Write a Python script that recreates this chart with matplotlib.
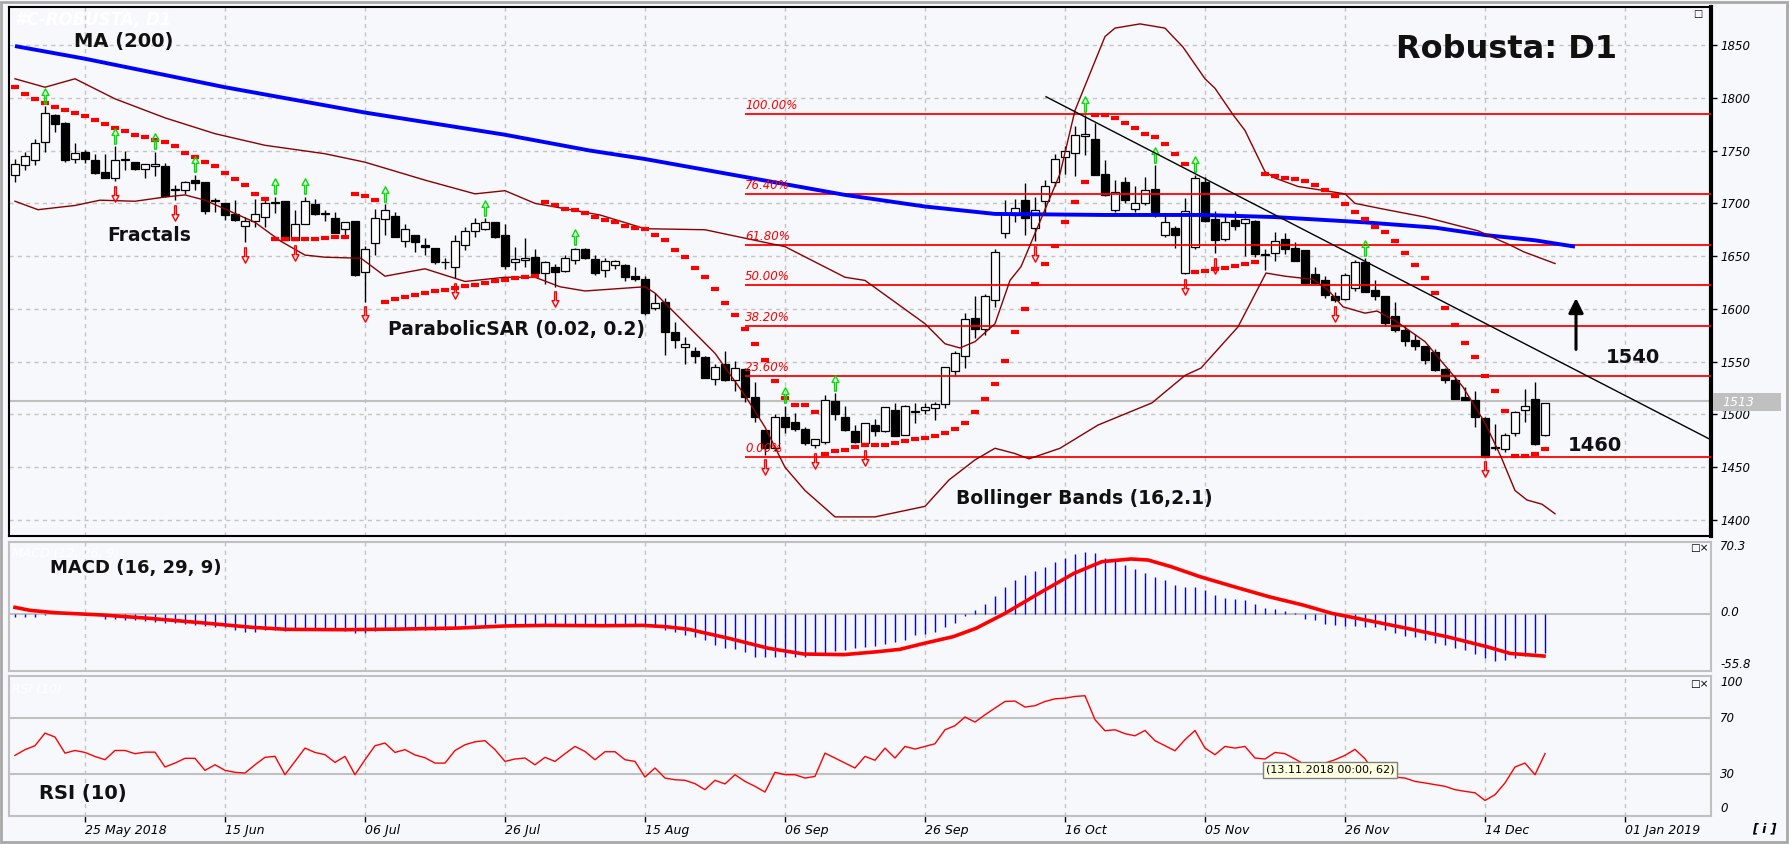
import numpy as np
import matplotlib
matplotlib.use('Agg')
import matplotlib.pyplot as plt
from matplotlib.path import Path
from matplotlib.patches import Rectangle

# ---------------- data ----------------
opens = [1727,1736,1741,1758,1784,1776,1742,1749,1741,1730,1724,1741,1739,1733,1735,1735,1713,1713,1722,1720,
         1702,1700,1690,1679,1683,1687,1700,1702,1665,1680,1699,1690,1686,1676,1683,1635,1662,1685,1688,1664,
         1670,1661,1658,1644,1640,1661,1674,1676,1682,1670,1644,1646,1649,1634,1640,1636,1646,1657,1647,1637,
         1642,1642,1631,1628,1601,1607,1578,1564,1560,1554,1534,1548,1533,1543,1517,1485,1468,1498,1493,1486,
         1471,1474,1513,1498,1484,1473,1490,1484,1504,1481,1502,1504,1506,1510,1541,1555,1591,1581,1608,1672,
         1689,1703,1677,1702,1720,1744,1748,1764,1761,1728,1694,1720,1695,1700,1714,1670,1677,1634,1659,1720,
         1685,1666,1684,1681,1683,1651,1653,1666,1658,1656,1633,1627,1612,1609,1620,1644,1618,1612,1593,1580,
         1571,1565,1559,1543,1533,1517,1514,1497,1468,1467,1482,1504,1515,1481]
highs = [1742,1749,1761,1792,1785,1777,1757,1751,1747,1747,1754,1750,1739,1737,1749,1738,1717,1721,1727,1720,
         1705,1700,1703,1687,1704,1706,1706,1702,1694,1706,1704,1694,1692,1682,1683,1660,1695,1699,1692,1680,
         1670,1667,1658,1648,1670,1678,1686,1686,1682,1680,1659,1667,1657,1645,1643,1651,1658,1658,1651,1648,
         1646,1643,1640,1631,1615,1610,1588,1573,1564,1555,1548,1560,1551,1544,1531,1485,1500,1508,1501,1488,
         1477,1518,1520,1508,1490,1492,1496,1507,1511,1509,1511,1511,1512,1545,1560,1596,1612,1614,1657,1703,
         1704,1719,1706,1722,1747,1754,1773,1784,1776,1741,1722,1725,1716,1725,1736,1691,1679,1705,1727,1725,
         1693,1688,1693,1686,1684,1657,1673,1672,1663,1656,1640,1631,1616,1634,1646,1648,1627,1612,1607,1585,
         1576,1565,1562,1544,1537,1526,1522,1498,1491,1482,1503,1524,1531,1511]
lows = [1720,1732,1736,1749,1768,1739,1738,1738,1728,1724,1721,1732,1732,1724,1726,1706,1703,1709,1713,1690,
        1692,1684,1683,1663,1678,1678,1691,1665,1665,1680,1689,1683,1672,1670,1631,1607,1651,1670,1668,1659,
        1654,1651,1643,1638,1629,1656,1668,1675,1667,1638,1637,1640,1633,1624,1621,1635,1643,1647,1632,1630,
        1638,1626,1626,1594,1599,1556,1563,1548,1549,1535,1528,1532,1522,1512,1493,1462,1465,1482,1484,1471,
        1468,1472,1495,1484,1473,1471,1480,1483,1480,1481,1492,1500,1495,1506,1536,1544,1572,1575,1602,1667,
        1682,1670,1664,1690,1716,1728,1726,1746,1727,1707,1692,1700,1692,1698,1687,1668,1658,1633,1657,1682,
        1653,1664,1675,1650,1649,1637,1645,1652,1645,1624,1624,1610,1607,1608,1617,1616,1608,1584,1578,1565,
        1561,1548,1541,1530,1515,1514,1488,1460,1466,1464,1480,1493,1471,1480]
closes = [1737,1745,1757,1786,1775,1741,1748,1742,1729,1724,1741,1741.5,1733,1737,1737,1707,1713.5,1720,1719,1693,
          1702.5,1689,1684,1683,1690,1700,1700.5,1665,1680,1702,1690,1690.5,1672,1682,1632,1657,1686,1694,1668,1676,
          1663,1659,1644,1644.5,1664,1674,1681,1682,1668,1641,1647,1648,1634,1644,1635,1648,1657,1648,1634,1645,
          1645,1630,1628,1596,1606,1578,1571,1567,1555,1535,1545,1533,1544,1517,1498,1468,1498,1488,1486,1473,
          1477,1514,1500,1485,1474,1492,1484,1507,1480,1508,1502.5,1507,1510,1545,1558,1590,1581,1612,1654,1690,
          1696,1686,1694,1716,1742,1750,1765,1766,1727,1708,1711,1703,1700,1713,1692,1682,1670,1693,1724,1683,
          1665,1682,1679,1685,1652,1651.5,1664,1657,1645,1625,1625,1613,1608,1632,1644,1616,1612,1587,1580,1570,
          1565,1552,1542,1533,1515,1514,1498,1460,1468.5,1481,1502,1508,1472,1511]

sar = [1810,1804,1799,1795,1791,1788,1786,1783,1779,1775,1771,1769,1765,1763,1760,1758,1754,1748,1744,1739,
       1735,1729,1723,1717,1709,1704,1666,1666,1666,1666,1666,1667,1668,1668,1709,1707,1703,1607,1609,1611,
       1613,1615,1617,1618,1620,1622,1623,1625,1626,1627,1629,1630,1631,1701,1698,1695,1694,1691,1687,1684,
       1682,1679,1677,1676,1670,1665,1656,1649,1639,1630,1619,1606,1594,1581,1567,1552,1532,1516,1509,1509,
       1502,1463,1465,1466,1469,1471,1471,1471,1473,1475,1477,1478,1480,1482,1486,1492,1502,1515,1529,1551,
       1578,1600,1624,1643,1660,1682,1701,1720,1784,1784,1781,1776,1771,1766,1763,1756,1747,1737,1635,1636,
       1638,1639,1641,1643,1644,1728,1726,1724,1723,1721,1717,1713,1707,1699,1692,1685,1678,1673,1664,1653,
       1642,1629,1615,1601,1585,1568,1554,1536,1522,1503,1461,1461,1463,1467]

fractal_up = [3, 10, 14, 18, 26, 29, 37, 47, 56, 77, 82, 107, 114, 118, 135]
fractal_dn = [10, 16, 23, 28, 35, 44, 54, 75, 80, 85, 102, 117, 120, 132, 147]

ma_x = [0, 7, 21, 35, 49, 57.5, 63, 73, 83, 91, 98, 109, 119, 126, 135, 142, 147, 152, 156]
ma_y = [1849, 1837, 1810, 1786, 1765, 1750, 1742, 1725, 1708, 1697, 1690, 1689, 1689, 1687, 1682, 1677, 1670, 1665, 1659]

bbu_x = [0, 3, 6, 10, 15, 20, 25, 31, 35, 41, 46, 49, 52, 58.5, 63, 69, 77, 83, 85, 91, 93, 94.5, 96, 98, 99.5,
         100.6, 104.5, 106, 109, 110, 112.5, 115, 116.8, 119, 120, 121.8, 123, 125, 126, 128.3, 133, 134, 136.6,
         141, 146.3, 149.4, 150.9, 154]
bbu_y = [1818, 1810, 1818, 1799, 1781, 1766, 1755, 1747, 1739, 1722, 1709, 1712, 1700, 1689, 1676, 1675, 1659, 1630,
         1627, 1586, 1567, 1563, 1569, 1586, 1627, 1640, 1728, 1788, 1858, 1866, 1870, 1866, 1848, 1818, 1809, 1784,
         1769, 1730, 1724, 1716, 1709, 1700, 1695, 1687, 1674, 1661, 1654, 1643]
bbl_x = [0, 2.3, 6, 8.5, 12, 15, 17, 19, 24, 26.6, 29, 31, 34.6, 37, 41, 45, 49, 52, 54.5, 57, 58.5, 63, 64, 66,
         70, 73, 75, 77, 79, 82, 86, 89, 91, 93.4, 96, 98, 100, 101.4, 104.5, 108.3, 113.7, 117, 118.6, 122.3,
         125.1, 127, 129.8, 131.3, 132.8, 135, 136.2, 138, 141, 144.8, 147, 148.6, 150, 151.2, 152.7, 154]
bbl_y = [1702, 1694, 1698, 1703, 1702, 1706, 1708, 1703, 1682, 1664, 1651, 1649, 1648, 1631, 1638, 1626, 1630, 1630,
         1621, 1617, 1618, 1621, 1615, 1596, 1558, 1518, 1488, 1450, 1428, 1403, 1403, 1409, 1413, 1438, 1457, 1468,
         1463, 1458, 1468, 1490, 1511, 1537, 1544, 1583, 1634, 1631, 1628, 1618, 1602, 1596, 1598, 1589, 1569, 1526,
         1492, 1460, 1428, 1419, 1415, 1406]

fib_levels = [1785, 1708.7, 1660.9, 1622.5, 1584.2, 1536.7, 1460]
fib_labels = ['100.00%', '76.40%', '61.80%', '50.00%', '38.20%', '23.60%', '0.00%']
fib_start = 73

trend_x = [103.1, 169.6]
trend_y = [1801, 1476]
arrow_x = 156.1
arrow_from, arrow_to = 1559, 1613
last_price = 1513

macd_hist = [-3.4,-3.2,-3.0,-1.0,-0.3,-0.2,-0.3,-0.6,-1.5,-5.0,-5.3,-5.8,-6.0,-6.8,-7.6,-8.5,-9.2,-10.1,-10.8,-11.5,
             -12.4,-13.0,-15.5,-17.2,-17.3,-16.0,-15.6,-16.3,-16.0,-15.5,-15.3,-15.6,-16.0,-16.3,-19.0,-18.4,-16.5,-15.2,-15.3,-15.2,
             -15.5,-15.4,-15.8,-15.9,-13.0,-10.5,-10.6,-10.4,-8.8,-10.2,-10.5,-10.0,-9.5,-10.6,-11.0,-11.8,-11.2,-10.5,-10.0,-10.0,
             -10.3,-10.3,-10.2,-10.4,-12.5,-15.6,-17.3,-20.6,-22.3,-25.4,-30.3,-33.6,-34.6,-36.8,-41.7,-41.8,-41.9,-42.4,-42.3,-41.7,
             -39.2,-37.9,-35.9,-35.2,-33.6,-32.6,-31.4,-29.5,-27.5,-25.5,-20.6,-19.6,-17.4,-13.2,-8.6,-2.1,3.8,9.7,17.5,26.6,
             33.2,38.1,42.3,46.2,50.8,54.4,58.6,60.2,59.9,54.4,52.1,47.8,43.6,40.3,36.4,33.2,28.3,26.6,26.0,23.4,
             18.5,15.3,14.3,13.6,9.7,5.4,4.5,3.2,1.2,-5.4,-5.9,-9.8,-10.8,-11.5,-11.5,-12.5,-12.5,-15.7,-19.0,-21.6,
             -22.9,-25.5,-28.8,-30.4,-33.7,-35.3,-39.2,-43.4,-45.7,-45.0,-43.4,-41.1,-38.5,-38.5]
signal_x = [0, 1.5, 4, 8.8, 13.4, 18.6, 23.8, 27.2, 33, 38.7, 44.4, 49, 53, 58.8, 62.8, 65.1, 67.4, 71.4, 75.4, 78.9,
            82.9, 86.3, 88.5, 90.9, 93.8, 96.1, 99, 102.4, 105.9, 108.7, 111.6, 113.3, 115.6, 118.5, 121.9, 125.4,
            128.8, 131.7, 135.1, 139.2, 143.2, 147.2, 149.5, 152.9]
signal_y = [6.4, 3.5, 1.2, -1.1, -4.3, -8.6, -13.2, -15.1, -15.4, -14.8, -13.8, -11.8, -11.2, -11.5, -11.2, -12.5,
            -15.1, -23.9, -33.7, -39.2, -39.8, -36.9, -34.6, -28.8, -22.3, -14.1, 0.5, 20.1, 39.7, 51.1, 53.7, 52.7,
            46.2, 36.4, 26.6, 16.8, 8.7, 0.5, -6.0, -14.1, -22.3, -32.1, -38.6, -41.2]

rsi = [43.3,47.4,50.2,59.2,56.4,44.9,46.8,45.4,42.5,40.2,46.8,46.8,44.5,45.6,45.6,35.0,37.8,41.2,41.2,32.6,
       36.6,32.6,31.2,30.7,36.6,41.9,42.6,29.5,39.0,48.5,45.4,43.8,38.3,42.6,29.5,40.2,50.2,52.1,45.4,47.4,
       43.6,41.6,37.8,37.8,46.8,50.9,53.0,53.8,47.4,39.0,40.7,41.4,36.6,41.9,39.0,44.5,49.7,46.1,40.2,45.9,
       45.9,40.2,39.0,27.8,34.3,27.1,25.9,25.5,23.1,18.8,25.5,22.9,29.5,24.7,21.2,17.1,31.2,29.5,29.5,27.1,
       28.3,44.9,41.4,37.8,34.3,42.6,39.8,48.5,41.4,49.7,47.8,49.7,51.6,61.6,64.5,70.7,67.1,72.3,77.1,81.8,
       82.1,77.8,78.8,81.8,83.7,84.2,85.4,85.9,68.8,60.9,61.6,58.8,57.3,61.1,53.8,50.2,46.6,54.5,61.1,48.5,
       43.8,49.7,48.5,49.7,41.4,40.7,45.4,44.5,40.7,36.6,35.0,37.8,40.2,43.3,47.6,40.9,30.7,28.8,27.8,27.1,
       24.7,23.6,22.4,21.2,18.8,17.6,16.6,11.1,15.2,23.6,35.0,37.8,29.5,44.5]

date_idx = [7, 21, 35, 49, 63, 77, 91, 105, 119, 133, 147, 161]
date_labels = ['25 May 2018', '15 Jun', '06 Jul', '26 Jul', '15 Aug', '06 Sep', '26 Sep', '16 Oct',
               '05 Nov', '26 Nov', '14 Dec', '01 Jan 2019']
price_ticks = [1400, 1450, 1500, 1550, 1600, 1650, 1700, 1750, 1800, 1850]
macd_range = (-55.8, 70.3)
rsi_levels = [30, 70]

# ---------------- figure ----------------
W, H = 1790, 844
BG = '#F6F8FC'
GRID = '#C4C4C4'
plt.rcParams['font.family'] = ['DejaVu Sans']
fig = plt.figure(figsize=(W / 100, H / 100), dpi=100, facecolor=BG)


def rect(x0, y0, x1, y1):
    return [x0 / W, 1 - y1 / H, (x1 - x0) / W, (y1 - y0) / H]


def ftext(x, y, s, **kw):
    return fig.text(x / W, 1 - y / H, s, **kw)


ax = fig.add_axes(rect(9, 7, 1711, 536))
axm = fig.add_axes(rect(9, 542, 1711, 671))
axr = fig.add_axes(rect(9, 676, 1711, 816))
XL = (-0.6, 169.6)
idx = np.arange(len(closes))

for a in (ax, axm, axr):
    a.set_facecolor(BG)
    a.set_xlim(*XL)
    a.set_xticks(date_idx)
    a.grid(True, axis='x', color=GRID, ls=(0, (3, 3)), lw=1)
    a.set_axisbelow(True)

# ---- main panel ----
ax.set_ylim(1384.9, 1886)
ax.set_yticks(price_ticks)
ax.grid(True, axis='y', color=GRID, ls=(0, (3, 3)), lw=1)
ax.tick_params(axis='x', length=0, labelbottom=False)
ax.tick_params(axis='y', left=False, right=True, labelleft=False, labelright=True,
               length=4, width=1, pad=3, labelsize=8.5)
for lb in ax.get_yticklabels():
    lb.set_fontstyle('italic')
for s in ('top', 'left', 'bottom'):
    ax.spines[s].set_color('black')
    ax.spines[s].set_linewidth(1.5)
ax.spines['right'].set_linewidth(3)

ax.axhline(last_price, color='#C0C0C0', lw=1.5, zorder=1)

o = np.array(opens, float); c = np.array(closes, float)
hgh = np.array(highs, float); low = np.array(lows, float)
ax.vlines(idx, low, hgh, color='black', lw=1, zorder=3)
body_bot = np.minimum(o, c)
body_h = np.maximum(np.abs(c - o), 0.9)
cols = np.where(c >= o, 'white', 'black')
ax.bar(idx, body_h, bottom=body_bot, width=0.72, color=cols, edgecolor='black', lw=0.9, zorder=3)

# fibonacci
for lvl, lab in zip(fib_levels, fib_labels):
    ax.hlines(lvl, fib_start, XL[1], color='#FF0000', lw=1.3, zorder=4)
    ax.text(fib_start, lvl + 4.5, lab, color='#FF0000', style='italic', fontsize=8.5,
            va='baseline', ha='left', zorder=6)

# indicators
ax.plot(ma_x, ma_y, color='#0000FF', lw=2.8, zorder=5, solid_capstyle='butt')
ax.plot(bbu_x, bbu_y, color='#8B0000', lw=1, zorder=5)
ax.plot(bbl_x, bbl_y, color='#8B0000', lw=1, zorder=5)
ax.plot(idx, sar, ls='none', marker='_', ms=5.5, mew=3, color='#FF0000', zorder=6)

up_path = Path([(0, 1), (0.45, 0.15), (0.12, 0.15), (0.12, -1), (-0.12, -1), (-0.12, 0.15), (-0.45, 0.15), (0, 1)],
               [Path.MOVETO] + [Path.LINETO] * 6 + [Path.CLOSEPOLY])
dn_path = Path([(x, -y) for x, y in up_path.vertices], up_path.codes)
ax.plot(fractal_up, [highs[i] + 10 for i in fractal_up], ls='none', marker=up_path, ms=11,
        mfc='none', mec='#00E000', mew=1, zorder=6)
ax.plot(fractal_dn, [lows[i] - 12 for i in fractal_dn], ls='none', marker=dn_path, ms=11,
        mfc='none', mec='#FF0000', mew=1, zorder=6)

ax.plot(trend_x, trend_y, color='black', lw=1, zorder=6)
ax.annotate('', xy=(arrow_x, arrow_to), xytext=(arrow_x, arrow_from),
            arrowprops=dict(arrowstyle='-|>', color='black', lw=2.2, mutation_scale=22), zorder=7)

# ---- MACD panel ----
axm.set_ylim(*macd_range)
axm.set_yticks([])
axm.tick_params(axis='x', length=0, labelbottom=False)
axm.axhline(0, color='#C0C0C0', lw=1.5, zorder=1)
axm.vlines(idx, 0, macd_hist, color='#0000FF', lw=1, zorder=3)
axm.plot(signal_x, signal_y, color='#FF0000', lw=2.6, zorder=4)

# ---- RSI panel ----
axr.set_ylim(0, 100)
axr.set_yticks([])
for lv in rsi_levels:
    axr.axhline(lv, color='#C0C0C0', lw=1.5, zorder=1)
axr.plot(idx, rsi, color='#FF0000', lw=1, zorder=3)
axr.set_xticklabels(date_labels, ha='left', fontstyle='italic', fontsize=9)
axr.tick_params(axis='x', length=4, width=1, pad=1.5, color='black')

for a in (axm, axr):
    for s in a.spines.values():
        s.set_color('#C0C0C0')
        s.set_linewidth(1.5)

# ---- texts ----
TXT = '#111111'
ftext(15, 20, '#C-ROBUSTA, D1', color='white', style='italic', fontweight='bold', fontsize=12, va='center')
ftext(12, 553, 'MACD (12, 26, 9)', color='white', style='italic', fontsize=9, va='center')
ftext(12, 690, 'RSI (10)', color='white', style='italic', fontsize=9, va='center')
ftext(74, 41.5, 'MA (200)', color=TXT, fontweight='bold', fontsize=14, va='center')
ftext(107, 235, 'Fractals', color=TXT, fontweight='bold', fontsize=13.5, va='center')
ftext(388, 329, 'ParabolicSAR (0.02, 0.2)', color=TXT, fontweight='bold', fontsize=13.5, va='center')
ftext(956, 498, 'Bollinger Bands (16,2.1)', color=TXT, fontweight='bold', fontsize=13.5, va='center')
ftext(1396, 50, 'Robusta: D1', color=TXT, fontweight='bold', fontsize=23, va='center')
ftext(1606, 357, '1540', color=TXT, fontweight='bold', fontsize=14, va='center')
ftext(1568, 446, '1460', color=TXT, fontweight='bold', fontsize=14, va='center')
ftext(50, 568, 'MACD (16, 29, 9)', color=TXT, fontweight='bold', fontsize=13, va='center')
ftext(39, 793, 'RSI (10)', color=TXT, fontweight='bold', fontsize=14, va='center')

# right scale labels of sub panels
for y, s in [(547, '70.3'), (613, '0.0'), (664, '-55.8')]:
    ftext(1720, y, s, style='italic', fontsize=8.5, va='center')
for y, s in [(683, '100'), (718, '70'), (774, '30'), (809, '0')]:
    ftext(1720, y, s, style='italic', fontsize=8.5, va='center')

# current price tag
fig.patches.append(Rectangle((1713 / W, 1 - 411 / H), 68 / W, 18 / H, transform=fig.transFigure,
                             facecolor='#C0C0C0', edgecolor='none'))
ftext(1722, 402, str(last_price), color='white', style='italic', fontsize=9, va='center')

# icons
ftext(1693, 14, '\u25a1', fontsize=7, va='center')
ftext(1690, 548, '\u25a1\u00d7', fontsize=7.5, va='center')
ftext(1690, 684, '\u25a1\u00d7', fontsize=7.5, va='center')
ftext(1752, 829, '[ i ]', style='italic', fontweight='bold', fontsize=9, va='center')

# tooltip
ftext(1330, 770, '(13.11.2018 00:00, 62)', ha='center', va='center', fontsize=8,
      bbox=dict(boxstyle='square,pad=0.25', fc='#FFFFE1', ec='#808080', lw=1))

# outer frame
fig.patches.append(Rectangle((1 / W, 2 / H), 1786 / W, 840 / H, transform=fig.transFigure,
                             fill=False, edgecolor='#A8A8A8', lw=2))

fig.savefig('out.png', dpi=100, facecolor=BG)
